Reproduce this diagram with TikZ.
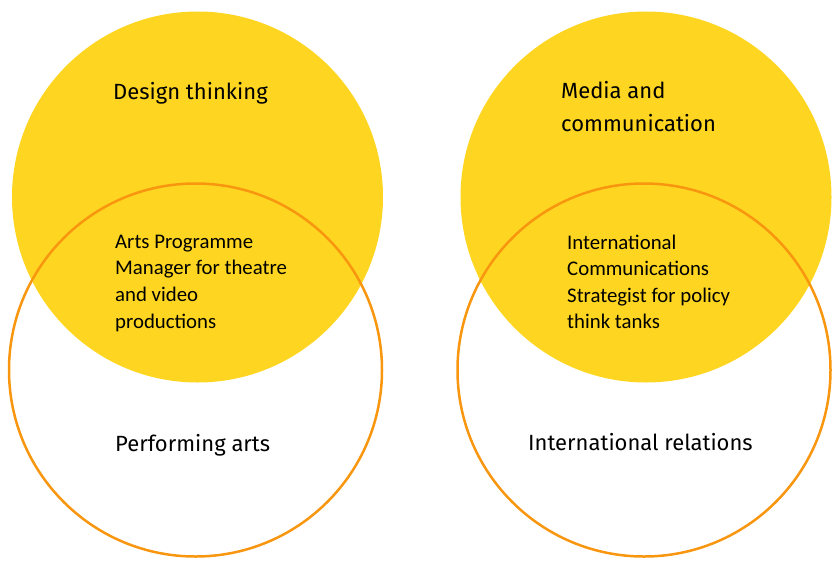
\documentclass[tikz,border=0pt]{standalone}
\usepackage{fontspec}
\setmainfont{Carlito}
\newfontfamily\headfont{Fira Sans}
\definecolor{vyellow}{HTML}{FED621}
\definecolor{vorange}{HTML}{F8960F}
\begin{document}
\begin{tikzpicture}[x=1pt,y=-1pt,
  yelcircle/.style={fill=vyellow,draw=none},
  orcircle/.style={draw=vorange,line width=2.5pt},
  head/.style={anchor=base west,inner sep=0pt,font=\headfont\fontsize{22}{26}\selectfont},
  body/.style={anchor=base west,inner sep=0pt,font=\fontsize{20.8}{24}\selectfont}]
\useasboundingbox (0,0) rectangle (835,563);
% left set
\fill[yelcircle] (197.5,197) circle (185.5);
\draw[orcircle] (195.5,370) circle (186.5);
% right set
\fill[yelcircle] (646,197) circle (185.5);
\draw[orcircle] (644,370) circle (186.5);
% left texts
\node[head] (dt) at (113,99) {Design thinking};
\node[body] (l1) at (115,248) {Arts Programme};
\node[body] (l2) at (115,274.7) {Manager for theatre};
\node[body] (l3) at (115,301.3) {and video};
\node[body] (l4) at (115,328) {productions};
\node[head] (pa) at (115,451.5) {Performing arts};
% right texts
\node[head] (mc1) at (561,98.5) {Media and};
\node[head] (mc2) at (561,131.5) {communication};
\node[body] (r1) at (567,249) {International};
\node[body] (r2) at (567,275.5) {Communications};
\node[body] (r3) at (567,302) {Strategist for policy};
\node[body] (r4) at (567,328.5) {think tanks};
\node[head] (ir) at (528,450) {International relations};
\end{tikzpicture}
\end{document}
